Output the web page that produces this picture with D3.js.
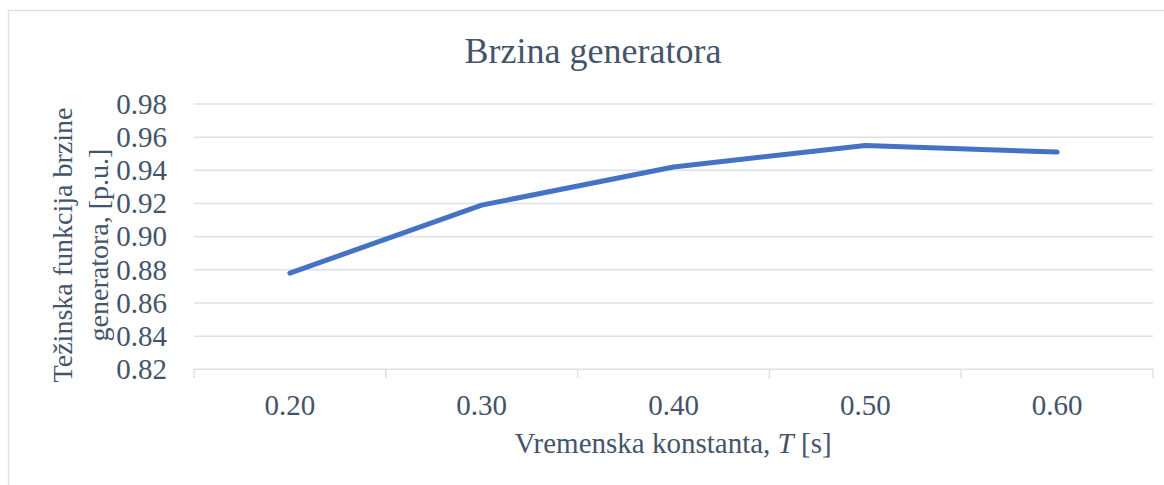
<!DOCTYPE html>
<html>
<head>
<meta charset="utf-8">
<script src="https://cdn.jsdelivr.net/npm/d3@7"></script>
<style>
    body { margin: 0; background: #fff; }
    svg { display: block; font-family: "Liberation Serif", "Times New Roman", serif; }
</style>
</head>
<body>
<div id="chart"></div>
<script>
// Data
const categories = ["0.20", "0.30", "0.40", "0.50", "0.60"];
const speedValues = [0.878, 0.919, 0.942, 0.955, 0.951];
const yTicks = [0.82, 0.84, 0.86, 0.88, 0.90, 0.92, 0.94, 0.96, 0.98];

const W = 1164, H = 485;
const textColor = "#44546a";
const gridColor = "#dde1e7";

const svg = d3.select("#chart").append("svg")
    .attr("width", W)
    .attr("height", H);

// Chart area border (runs off the right and bottom edges)
svg.append("rect")
    .attr("x", 8.5).attr("y", 10.5)
    .attr("width", W).attr("height", H)
    .attr("fill", "none")
    .attr("stroke", gridColor)
    .attr("stroke-width", 1.5);

const plot = { left: 194, right: 1153, top: 104, bottom: 369.3 };

const x = d3.scaleBand()
    .domain(categories)
    .range([plot.left, plot.right]);

const y = d3.scaleLinear()
    .domain([0.82, 0.98])
    .range([plot.bottom, plot.top]);

// Horizontal grid lines
svg.append("g")
    .selectAll("line")
    .data(yTicks.slice(1))
    .join("line")
    .attr("x1", plot.left).attr("x2", plot.right)
    .attr("y1", d => y(d)).attr("y2", d => y(d))
    .attr("stroke", gridColor)
    .attr("stroke-width", 1.5);

// Y axis labels
const yAxis = svg.append("g")
    .attr("transform", `translate(${plot.left},0)`)
    .call(d3.axisLeft(y).tickValues(yTicks).tickFormat(d3.format(".2f")).tickSize(0).tickPadding(27));
yAxis.select(".domain").remove();
yAxis.selectAll("text")
    .attr("fill", textColor)
    .attr("font-size", "29px")
    .attr("font-family", "Liberation Serif, serif");

// X axis with category dividers
const xAxis = svg.append("g")
    .attr("transform", `translate(0,${plot.bottom})`)
    .call(d3.axisBottom(x).tickSize(0).tickPadding(25));
xAxis.select(".domain").remove();
xAxis.selectAll("text")
    .attr("fill", textColor)
    .attr("font-size", "29px")
    .attr("font-family", "Liberation Serif, serif");

svg.append("line")
    .attr("x1", plot.left).attr("x2", plot.right)
    .attr("y1", plot.bottom).attr("y2", plot.bottom)
    .attr("stroke", gridColor)
    .attr("stroke-width", 1.5);

const dividers = categories.map(c => x(c)).concat([x(categories[categories.length - 1]) + x.bandwidth()]);
svg.append("g")
    .selectAll("line")
    .data(dividers)
    .join("line")
    .attr("x1", d => d).attr("x2", d => d)
    .attr("y1", plot.bottom).attr("y2", plot.bottom + 9)
    .attr("stroke", gridColor)
    .attr("stroke-width", 1.5);

// Series line
const line = d3.line()
    .x((d, i) => x(categories[i]) + x.bandwidth() / 2)
    .y(d => y(d));

svg.append("path")
    .datum(speedValues)
    .attr("fill", "none")
    .attr("stroke", "#4472c4")
    .attr("stroke-width", 5)
    .attr("stroke-linecap", "round")
    .attr("stroke-linejoin", "round")
    .attr("d", line);

// Title
svg.append("text")
    .attr("x", 593).attr("y", 63)
    .attr("text-anchor", "middle")
    .attr("fill", textColor)
    .attr("font-size", "36px")
    .text("Brzina generatora");

// X axis title
const xTitle = svg.append("text")
    .attr("x", 673).attr("y", 453)
    .attr("text-anchor", "middle")
    .attr("fill", textColor)
    .attr("font-size", "29px");
xTitle.append("tspan").text("Vremenska konstanta, ");
xTitle.append("tspan").attr("font-style", "italic").text("T");
xTitle.append("tspan").text(" [s]");

// Y axis title (two lines)
const yTitle = svg.append("text")
    .attr("transform", "translate(72,245) rotate(-90)")
    .attr("text-anchor", "middle")
    .attr("fill", textColor)
    .attr("font-size", "28px");
yTitle.append("tspan").attr("x", 0).attr("y", 0).text("Težinska funkcija brzine");
yTitle.append("tspan").attr("x", 0).attr("y", 36).text("generatora, [p.u.]");
</script>
</body>
</html>
